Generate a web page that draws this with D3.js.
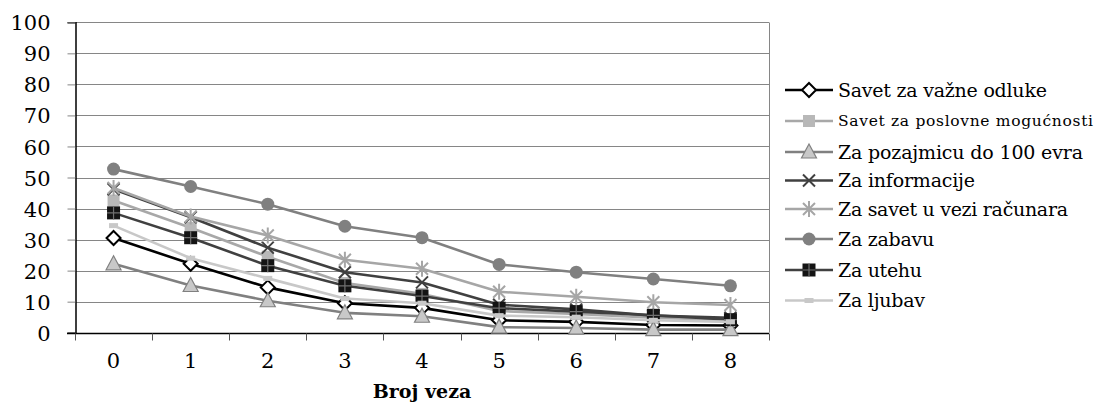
<!DOCTYPE html>
<html><head><meta charset="utf-8">
<script src="https://cdn.jsdelivr.net/npm/d3@7/dist/d3.min.js"></script>
<style>
html,body{margin:0;padding:0;background:#fff;}
svg{display:block;}
text{font-family:"DejaVu Serif",serif;fill:#000;}
</style></head>
<body>
<svg id="chart" width="1096" height="411"></svg>
<script>
const categories = [0,1,2,3,4,5,6,7,8];
const yTicks = [0,10,20,30,40,50,60,70,80,90,100];
const seriesNames = [
  "Savet za važne odluke",
  "Savet za poslovne mogućnosti",
  "Za pozajmicu do 100 evra",
  "Za informacije",
  "Za savet u vezi računara",
  "Za zabavu",
  "Za utehu",
  "Za ljubav"
];
const savetOdluke   = [30.5, 22.2, 14.6, 9.5, 8.0, 4.0, 3.5, 2.5, 2.3];
const savetPoslovne = [42.6, 33.8, 24.5, 16.0, 12.5, 7.0, 6.0, 4.8, 4.0];
const pozajmica     = [22.2, 15.2, 10.3, 6.4, 5.3, 1.8, 1.5, 1.0, 1.0];
const informacije   = [46.2, 37.2, 27.4, 19.5, 16.2, 9.0, 7.5, 5.5, 4.8];
const racunar       = [46.6, 37.4, 31.3, 23.5, 20.6, 13.2, 11.6, 9.8, 8.9];
const zabava        = [52.7, 47.1, 41.4, 34.3, 30.6, 22.0, 19.5, 17.3, 15.1];
const uteha         = [38.6, 30.6, 21.6, 15.1, 11.8, 7.9, 6.8, 5.6, 4.2];
const ljubav        = [34.5, 24.0, 17.5, 11.0, 9.5, 5.5, 5.0, 4.0, 3.5];
const allValues = [savetOdluke, savetPoslovne, pozajmica, informacije, racunar, zabava, uteha, ljubav];

const styles = [
  {line:"#000000", marker:"diamond", fill:"#ffffff", stroke:"#000000"},
  {line:"#a8a8a8", marker:"square", fill:"#b8b8b8", stroke:"#b8b8b8"},
  {line:"#808080", marker:"triangle", fill:"#c8c8c8", stroke:"#808080"},
  {line:"#404040", marker:"x", fill:"none", stroke:"#404040"},
  {line:"#a6a6a6", marker:"star", fill:"none", stroke:"#a6a6a6"},
  {line:"#808080", marker:"circle", fill:"#808080", stroke:"#808080"},
  {line:"#404040", marker:"plusSquare", fill:"#141414", stroke:"#707070"},
  {line:"#c8c8c8", marker:"dash", fill:"#c8c8c8", stroke:"#c8c8c8"}
];
// legend text widths (null = natural)
const legendWidths = [null, 255, 245, 137, 230, null, 84, 87];

const svg = d3.select("#chart");
const pLeft = 75, pRight = 769, pTop = 22.3, pBottom = 332.7;
const x = d3.scaleBand().domain(categories).range([pLeft, pRight]);
const y = d3.scaleLinear().domain([0,100]).range([pBottom, pTop]);

// gridlines
svg.append("g").selectAll("line").data(yTicks.filter(d=>d>0)).join("line")
  .attr("x1", pLeft).attr("x2", pRight)
  .attr("y1", d=>Math.round(y(d))+0.5).attr("y2", d=>Math.round(y(d))+0.5)
  .attr("stroke", "#868686").attr("stroke-width", 1);
// right border
svg.append("line").attr("x1", pRight+0.5).attr("x2", pRight+0.5).attr("y1", Math.round(pTop)+0.5).attr("y2", pBottom)
  .attr("stroke", "#868686");

// y axis
const yAxis = d3.axisLeft(y).tickValues(yTicks).tickSize(8).tickPadding(17);
const gy = svg.append("g").attr("transform", `translate(${pLeft+0.5},0)`).call(yAxis);
gy.select(".domain").attr("stroke", "#000").attr("stroke-width", 1.5);
gy.selectAll(".tick line").attr("stroke", "#868686");
gy.selectAll(".tick text").style("font-size", "21px").attr("dy", "0.36em").attr("fill","#000");

// x axis
const xAxis = d3.axisBottom(x).tickSize(0).tickPadding(20);
const gx = svg.append("g").attr("transform", `translate(0,${Math.round(pBottom)+0.5})`).call(xAxis);
gx.select(".domain").attr("stroke", "#000").attr("stroke-width", 1.5).attr("d", `M${pLeft-8},0H${pRight}`);
gx.selectAll(".tick text").style("font-size", "21px").attr("fill","#000");
// boundary ticks
const bounds = categories.map(c => x(c)).concat([pRight]);
gx.append("g").selectAll("line").data(bounds).join("line")
  .attr("x1", d=>Math.round(d)+0.5).attr("x2", d=>Math.round(d)+0.5).attr("y1", 0).attr("y2", 7)
  .attr("stroke", "#555");

svg.append("text").attr("x", (pLeft+pRight)/2).attr("y", 398).attr("text-anchor","middle")
  .style("font-size","19px").style("font-weight","bold").text("Broj veza");

function drawMarker(g, type, cx, cy, st) {
  switch(type) {
    case "diamond":
      g.append("path").attr("d", `M${cx},${cy-7}L${cx+7},${cy}L${cx},${cy+7}L${cx-7},${cy}Z`)
        .attr("fill", st.fill).attr("stroke", st.stroke).attr("stroke-width", 2); break;
    case "square":
      g.append("rect").attr("x", cx-6).attr("y", cy-6).attr("width", 12).attr("height", 12)
        .attr("fill", st.fill); break;
    case "triangle":
      g.append("path").attr("d", `M${cx},${cy-8}L${cx+7.5},${cy+6}L${cx-7.5},${cy+6}Z`)
        .attr("fill", st.fill).attr("stroke", st.stroke).attr("stroke-width", 1.2); break;
    case "x":
      g.append("path").attr("d", `M${cx-6},${cy-6}L${cx+6},${cy+6}M${cx+6},${cy-6}L${cx-6},${cy+6}`)
        .attr("stroke", st.stroke).attr("stroke-width", 2).attr("fill","none"); break;
    case "star":
      g.append("path").attr("d", `M${cx-6},${cy-6}L${cx+6},${cy+6}M${cx+6},${cy-6}L${cx-6},${cy+6}M${cx},${cy-8}L${cx},${cy+8}`)
        .attr("stroke", st.stroke).attr("stroke-width", 2).attr("fill","none"); break;
    case "circle":
      g.append("circle").attr("cx", cx).attr("cy", cy).attr("r", 6.5).attr("fill", st.fill); break;
    case "plusSquare":
      g.append("rect").attr("x", cx-6.5).attr("y", cy-6.5).attr("width", 13).attr("height", 13).attr("fill", st.fill);
      g.append("path").attr("d", `M${cx-6.5},${cy}L${cx+6.5},${cy}M${cx},${cy-6.5}L${cx},${cy+6.5}`)
        .attr("stroke", st.stroke).attr("stroke-width", 1.2); break;
    case "dash":
      g.append("rect").attr("x", cx-4.5).attr("y", cy-2.5).attr("width", 9).attr("height", 5).attr("fill", st.fill); break;
  }
}

const lineGen = d3.line().x((d,i)=>x(categories[i]) + x.bandwidth()/2).y(d=>y(d));
allValues.forEach((vals, si) => {
  const st = styles[si];
  const g = svg.append("g");
  g.append("path").datum(vals).attr("d", lineGen).attr("fill","none")
    .attr("stroke", st.line).attr("stroke-width", 2.6).attr("stroke-linejoin","round");
  vals.forEach((v,i) => drawMarker(g, st.marker, x(categories[i]) + x.bandwidth()/2, y(v), st));
});

// legend
const legendRows = [90, 121, 152, 180.5, 209, 239, 270, 300.5];
const texts = [];
seriesNames.forEach((name, i) => {
  const g = svg.append("g");
  const ly = legendRows[i];
  g.append("line").attr("x1", 785).attr("x2", 833).attr("y1", ly).attr("y2", ly)
    .attr("stroke", styles[i].line).attr("stroke-width", 2.6);
  drawMarker(g, styles[i].marker, 809, ly, styles[i]);
  const t = g.append("text").attr("x", 838).attr("y", ly).attr("dy", "0.35em")
    .style("font-size", i === 1 ? "15.5px" : "19px").text(name);
  texts.push(t);
});
// ratio of reference width to natural width, averaged over the measured entries
let ratios = [];
texts.forEach((t,i) => { if (legendWidths[i] && i !== 1) ratios.push(legendWidths[i] / t.node().getComputedTextLength()); });
const avgRatio = d3.mean(ratios);
texts.forEach((t,i) => {
  const nat = t.node().getComputedTextLength();
  const w = legendWidths[i] || nat * avgRatio;
  t.attr("textLength", w).attr("lengthAdjust", "spacing");
});
</script>
</body></html>
